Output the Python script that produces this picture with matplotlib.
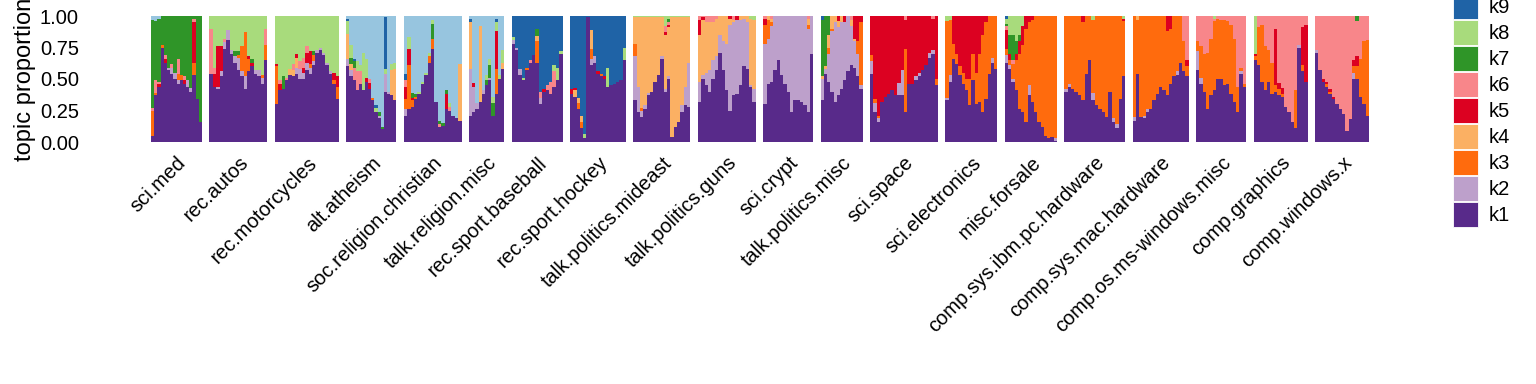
import matplotlib
matplotlib.use("Agg")
from matplotlib import pyplot as plt
from matplotlib.patches import Patch
import numpy as np

plt.rcParams['font.family'] = ['Liberation Sans', 'DejaVu Sans']

topics = ["k1", "k2", "k3", "k4", "k5", "k6", "k7", "k8", "k9", "k10"]
topic_colors = ["#582A8A", "#BDA0CB", "#FF6B0D", "#FBB063", "#DC0121",
                "#F8868A", "#2F9528", "#A8DB7C", "#1F63A6", "#97C5DF"]

# each newsgroup: k1 share per column, the smaller topics,
# and the topic that takes whatever is left at the top

sci_med_k1 = [0.05, 0.37, 0.44, 0.75, 0.63, 0.57, 0.54, 0.50, 0.46, 0.49, 0.46, 0.44, 0.40, 0.53, 0.34, 0.16]
sci_med_other = {
    "k2": [0, 0, 0, 0, 0, 0.02, 0.05, 0.05, 0.03, 0, 0, 0.05, 0.03, 0, 0, 0],
    "k3": [0.20, 0.02, 0, 0.02, 0, 0, 0, 0, 0.05, 0.04, 0, 0, 0, 0.10, 0, 0],
    "k5": [0, 0, 0.02, 0, 0.03, 0, 0, 0, 0, 0, 0.03, 0, 0, 0.32, 0, 0],
    "k6": [0.02, 0.10, 0.02, 0, 0.03, 0, 0.03, 0, 0.12, 0, 0.03, 0, 0, 0.03, 0, 0],
    "k10": [0.03, 0.04, 0.02, 0, 0, 0, 0, 0, 0, 0, 0, 0, 0, 0, 0, 0],
}

rec_autos_k1 = [0.54, 0.44, 0.42, 0.52, 0.74, 0.81, 0.70, 0.63, 0.57, 0.52, 0.42, 0.56, 0.60, 0.54, 0.52, 0.46, 0.65]
rec_autos_other = {
    "k2": [0, 0, 0.02, 0.04, 0.05, 0.08, 0.03, 0.05, 0.10, 0.04, 0.10, 0, 0, 0.03, 0.05, 0.05, 0],
    "k3": [0, 0, 0, 0, 0, 0, 0, 0, 0.02, 0.20, 0.35, 0.10, 0, 0, 0, 0.02, 0.12],
    "k5": [0, 0.10, 0.32, 0.20, 0, 0, 0, 0, 0, 0, 0, 0.02, 0.03, 0, 0, 0, 0],
    "k6": [0.36, 0.05, 0, 0, 0.03, 0, 0, 0, 0, 0, 0, 0, 0, 0, 0, 0, 0.13],
    "k7": [0, 0, 0, 0, 0, 0, 0, 0.04, 0.03, 0, 0, 0, 0.03, 0, 0, 0, 0],
}

rec_moto_k1 = [0.30, 0.41, 0.42, 0.49, 0.53, 0.52, 0.54, 0.50, 0.50, 0.57, 0.54, 0.61, 0.71, 0.73, 0.69, 0.61, 0.54, 0.46, 0.34]
rec_moto_other = {
    "k2": [0, 0, 0, 0, 0, 0, 0.05, 0.08, 0.05, 0.06, 0.05, 0.03, 0.02, 0.02, 0.02, 0.02, 0.02, 0, 0],
    "k3": [0.30, 0, 0, 0, 0, 0, 0, 0, 0, 0, 0.03, 0.05, 0, 0, 0, 0, 0, 0.03, 0.10],
    "k4": [0, 0, 0, 0, 0.05, 0.05, 0.08, 0, 0, 0, 0, 0, 0, 0, 0, 0, 0, 0, 0],
    "k5": [0.02, 0.05, 0, 0, 0, 0, 0.03, 0, 0.04, 0.08, 0.10, 0, 0, 0, 0, 0, 0, 0.06, 0.08],
    "k6": [0, 0.03, 0, 0.02, 0, 0.05, 0, 0.06, 0.08, 0.05, 0, 0, 0, 0, 0, 0, 0, 0, 0],
    "k7": [0, 0, 0.10, 0, 0, 0, 0, 0, 0, 0, 0, 0.03, 0, 0, 0, 0, 0, 0, 0],
}

atheism_k1 = [0.60, 0.52, 0.49, 0.41, 0.46, 0.41, 0.48, 0.42, 0.33, 0.24, 0.19, 0.10, 0.40, 0.38, 0.37, 0.33]
atheism_other = {
    "k2": [0.06, 0.05, 0, 0, 0, 0, 0, 0, 0, 0, 0.02, 0, 0.14, 0.02, 0, 0],
    "k3": [0, 0, 0, 0, 0, 0, 0, 0, 0.02, 0, 0, 0, 0, 0, 0, 0],
    "k4": [0.20, 0.05, 0, 0, 0, 0, 0, 0, 0, 0, 0, 0, 0, 0, 0.20, 0.25],
    "k5": [0, 0, 0, 0, 0, 0, 0.03, 0.05, 0, 0, 0, 0, 0, 0, 0, 0],
    "k6": [0, 0, 0.10, 0.15, 0.10, 0, 0, 0.03, 0, 0, 0, 0, 0, 0, 0, 0],
    "k7": [0, 0.05, 0.05, 0, 0, 0, 0, 0, 0, 0, 0.03, 0.02, 0, 0, 0, 0],
    "k8": [0.10, 0.10, 0, 0.08, 0.05, 0.30, 0.15, 0, 0, 0.03, 0, 0, 0.04, 0, 0.05, 0.05],
    "k9": [0.02, 0, 0.02, 0, 0, 0, 0, 0, 0, 0.02, 0, 0, 0.41, 0, 0, 0],
}

christian_k1 = [0.21, 0.26, 0.28, 0.34, 0.38, 0.46, 0.53, 0.63, 0.74, 0.32, 0.12, 0.13, 0.26, 0.25, 0.21, 0.19, 0.17]
christian_other = {
    "k2": [0.05, 0, 0, 0, 0, 0, 0, 0, 0, 0, 0, 0, 0, 0, 0, 0, 0],
    "k3": [0.08, 0.35, 0.05, 0.02, 0, 0, 0, 0.05, 0.08, 0, 0, 0, 0, 0, 0, 0, 0],
    "k4": [0, 0, 0, 0, 0, 0, 0, 0, 0, 0, 0, 0, 0, 0, 0, 0, 0.45],
    "k5": [0.10, 0.13, 0.02, 0, 0, 0, 0, 0, 0, 0, 0, 0, 0.12, 0, 0, 0, 0],
    "k6": [0.05, 0, 0, 0, 0, 0, 0, 0, 0, 0, 0.02, 0, 0, 0.03, 0, 0, 0],
    "k7": [0, 0, 0.04, 0.02, 0, 0, 0, 0, 0.12, 0, 0.03, 0.02, 0.03, 0, 0, 0, 0],
    "k8": [0, 0.09, 0, 0, 0.02, 0.02, 0.02, 0.03, 0.03, 0, 0, 0, 0, 0.03, 0, 0, 0],
    "k9": [0.05, 0, 0, 0, 0, 0, 0, 0, 0, 0, 0, 0, 0, 0, 0, 0, 0],
}

religion_misc_k1 = [0.21, 0.24, 0.26, 0.32, 0.38, 0.45, 0.49, 0.21, 0.38, 0.50, 0.58]
religion_misc_other = {
    "k2": [0.37, 0.20, 0.05, 0, 0.03, 0, 0.02, 0, 0, 0, 0],
    "k3": [0, 0, 0, 0, 0, 0, 0, 0, 0.20, 0, 0],
    "k4": [0.37, 0, 0, 0.60, 0, 0, 0, 0, 0, 0, 0.05],
    "k5": [0, 0.03, 0, 0, 0, 0, 0, 0, 0.30, 0, 0],
    "k7": [0, 0, 0, 0, 0, 0.04, 0.10, 0.10, 0, 0, 0],
    "k8": [0, 0, 0, 0, 0, 0.04, 0.05, 0.05, 0.07, 0.03, 0.10],
    "k9": [0.03, 0, 0, 0, 0, 0, 0, 0, 0.03, 0, 0],
}

baseball_k1 = [0.78, 0.73, 0.53, 0.49, 0.57, 0.63, 0.69, 0.63, 0.30, 0.40, 0.41, 0.38, 0.44, 0.49, 0.70]
baseball_other = {
    "k2": [0.03, 0.02, 0.05, 0, 0, 0, 0, 0, 0.05, 0, 0, 0, 0, 0, 0],
    "k3": [0, 0, 0, 0, 0.02, 0, 0, 0.17, 0, 0, 0, 0, 0, 0, 0],
    "k4": [0, 0, 0, 0, 0, 0, 0, 0.04, 0, 0, 0, 0, 0, 0, 0],
    "k5": [0, 0, 0, 0, 0, 0, 0, 0, 0, 0.02, 0, 0, 0, 0, 0],
    "k6": [0, 0, 0, 0, 0, 0.02, 0, 0, 0.05, 0, 0.04, 0.10, 0.12, 0, 0],
    "k7": [0, 0, 0, 0, 0, 0, 0, 0.06, 0, 0, 0, 0, 0, 0, 0],
    "k8": [0.02, 0, 0, 0.02, 0, 0, 0, 0, 0, 0, 0, 0, 0.05, 0.10, 0.02],
}

hockey_k1 = [0.38, 0.36, 0.26, 0.11, 0.03, 0.99, 0.61, 0.63, 0.54, 0.52, 0.50, 0.44, 0.45, 0.46, 0.48, 0.49, 0.65]
hockey_other = {
    "k2": [0, 0, 0, 0, 0, 0, 0.05, 0.05, 0, 0, 0, 0, 0, 0, 0, 0, 0],
    "k3": [0, 0, 0.05, 0.05, 0, 0, 0.08, 0, 0, 0.02, 0, 0, 0, 0, 0, 0, 0],
    "k4": [0, 0.05, 0.04, 0.05, 0, 0, 0.15, 0, 0, 0, 0, 0, 0, 0, 0, 0, 0],
    "k5": [0.04, 0.02, 0, 0, 0, 0, 0, 0, 0.02, 0, 0.02, 0, 0, 0, 0, 0, 0],
    "k8": [0, 0, 0, 0, 0.03, 0, 0, 0, 0, 0, 0, 0.15, 0, 0, 0, 0, 0.10],
}

mideast_k1 = [0.33, 0.24, 0.20, 0.26, 0.37, 0.40, 0.48, 0.53, 0.66, 0.40, 0.50, 0.04, 0.12, 0.16, 0.24, 0.29, 0.28]
mideast_other = {
    "k2": [0.35, 0.20, 0.05, 0.03, 0.02, 0, 0, 0, 0.02, 0.02, 0.02, 0, 0, 0, 0.05, 0.15, 0.35],
    "k3": [0.10, 0, 0.02, 0, 0, 0, 0, 0, 0, 0, 0, 0, 0, 0, 0, 0, 0],
    "k5": [0, 0, 0, 0, 0, 0, 0, 0, 0, 0.02, 0.02, 0, 0, 0, 0, 0, 0],
    "k6": [0, 0, 0, 0, 0, 0, 0, 0, 0, 0.05, 0.02, 0, 0, 0, 0, 0, 0],
    "k7": [0, 0, 0, 0, 0, 0, 0, 0, 0, 0, 0.03, 0, 0, 0, 0, 0, 0],
    "k8": [0.01, 0.01, 0.01, 0.01, 0.01, 0.01, 0.01, 0.01, 0.01, 0.08, 0.02, 0.01, 0.01, 0.01, 0.01, 0.01, 0.01],
}

guns_k1 = [0.32, 0.50, 0.45, 0.40, 0.50, 0.57, 0.71, 0.57, 0.41, 0.25, 0.37, 0.38, 0.45, 0.60, 0.58, 0.44, 0.32]
guns_other = {
    "k4": [0.37, 0.44, 0.40, 0.38, 0.30, 0.30, 0.15, 0.20, 0.22, 0.05, 0.02, 0, 0.03, 0.02, 0.05, 0.53, 0.55],
    "k5": [0.12, 0.02, 0, 0, 0, 0, 0, 0, 0, 0.02, 0, 0.03, 0, 0, 0, 0, 0],
    "k6": [0.03, 0.01, 0.05, 0.05, 0.05, 0.02, 0, 0, 0, 0, 0.03, 0, 0, 0, 0, 0, 0],
    "k8": [0, 0, 0, 0, 0, 0, 0, 0, 0, 0, 0, 0, 0, 0, 0, 0.02, 0.03],
}

crypt_k1 = [0.30, 0.46, 0.48, 0.57, 0.65, 0.53, 0.46, 0.40, 0.24, 0.33, 0.33, 0.32, 0.29, 0.24, 0.70]
crypt_other = {
    "k3": [0.15, 0.15, 0.03, 0, 0, 0, 0, 0, 0, 0, 0, 0, 0, 0.03, 0],
    "k4": [0, 0.03, 0.03, 0, 0, 0, 0, 0, 0, 0, 0, 0, 0, 0.05, 0],
    "k5": [0.05, 0, 0, 0, 0, 0, 0, 0, 0, 0, 0, 0, 0, 0, 0],
    "k6": [0.02, 0, 0.02, 0, 0, 0, 0, 0, 0, 0, 0, 0, 0, 0.02, 0],
}

politics_misc_k1 = [0.33, 0.54, 0.48, 0.40, 0.32, 0.37, 0.42, 0.49, 0.56, 0.61, 0.59, 0.52, 0.42]
politics_misc_other = {
    "k3": [0, 0, 0.05, 0.02, 0, 0, 0, 0, 0, 0, 0, 0.10, 0.50],
    "k4": [0.02, 0.02, 0.10, 0.10, 0.05, 0.05, 0.05, 0, 0, 0.05, 0.02, 0, 0],
    "k5": [0, 0, 0, 0, 0, 0.04, 0, 0.05, 0, 0, 0.18, 0.20, 0.05],
    "k6": [0, 0, 0, 0, 0, 0, 0, 0, 0, 0.03, 0, 0, 0],
    "k7": [0.45, 0.40, 0.15, 0, 0, 0, 0, 0, 0, 0, 0, 0, 0],
    "k9": [0.03, 0, 0, 0, 0, 0, 0, 0, 0, 0, 0, 0, 0],
}

space_k1 = [0.54, 0.24, 0.16, 0.32, 0.36, 0.38, 0.41, 0.37, 0.37, 0.37, 0.24, 0.46, 0.46, 0.49, 0.52, 0.57, 0.61, 0.67, 0.70, 0.45]
space_other = {
    "k2": [0.10, 0.07, 0.03, 0, 0, 0, 0, 0, 0.10, 0.20, 0, 0, 0, 0.03, 0.03, 0, 0, 0.04, 0.03, 0],
    "k3": [0.05, 0.03, 0.02, 0, 0, 0, 0, 0, 0, 0, 0.50, 0, 0, 0, 0, 0, 0, 0, 0, 0.05],
    "k6": [0, 0, 0, 0, 0, 0, 0, 0, 0, 0, 0.03, 0, 0, 0, 0, 0, 0, 0, 0.02, 0],
}

electronics_k1 = [0.33, 0.48, 0.66, 0.62, 0.53, 0.46, 0.41, 0.29, 0.49, 0.30, 0.32, 0.24, 0.34, 0.54, 0.63, 0.58]
electronics_other = {
    "k2": [0.02, 0.05, 0, 0, 0, 0, 0, 0, 0, 0, 0, 0, 0, 0, 0.04, 0],
    "k5": [0, 0, 0.22, 0.30, 0.40, 0.45, 0.50, 0.50, 0.30, 0.45, 0.30, 0.15, 0.05, 0, 0, 0],
    "k8": [0.04, 0.03, 0, 0, 0, 0, 0, 0, 0, 0, 0, 0, 0, 0, 0, 0],
}

forsale_k1 = [0.63, 0.58, 0.48, 0.41, 0.26, 0.24, 0.16, 0.37, 0.32, 0.24, 0.16, 0.12, 0.05, 0.03, 0.04, 0.01]
forsale_other = {
    "k2": [0.06, 0.03, 0.02, 0, 0, 0, 0, 0.08, 0, 0, 0, 0, 0, 0, 0, 0.02],
    "k5": [0.15, 0.05, 0, 0.05, 0.10, 0.15, 0.10, 0.05, 0.03, 0, 0, 0, 0, 0, 0, 0],
    "k6": [0.03, 0, 0.03, 0, 0, 0, 0, 0, 0, 0, 0, 0, 0, 0, 0, 0],
    "k7": [0.02, 0.15, 0.20, 0.10, 0.05, 0, 0, 0, 0, 0, 0, 0, 0, 0, 0, 0],
    "k8": [0.04, 0.15, 0.15, 0.20, 0.15, 0.08, 0, 0, 0, 0, 0, 0, 0, 0, 0, 0],
    "k9": [0.02, 0, 0, 0, 0, 0, 0, 0, 0, 0, 0, 0, 0, 0, 0, 0],
}

ibm_k1 = [0.40, 0.44, 0.42, 0.40, 0.37, 0.33, 0.54, 0.65, 0.33, 0.29, 0.26, 0.24, 0.20, 0.40, 0.16, 0.11, 0.34, 0.52]
ibm_other = {
    "k2": [0.02, 0.02, 0, 0, 0, 0, 0, 0, 0.06, 0, 0, 0, 0, 0, 0.03, 0.03, 0, 0],
    "k5": [0, 0, 0, 0, 0, 0.05, 0, 0, 0, 0, 0, 0, 0, 0, 0, 0, 0, 0.02],
    "k8": [0, 0, 0, 0, 0, 0, 0, 0, 0.03, 0, 0, 0, 0, 0, 0, 0, 0, 0.02],
}

mac_k1 = [0.17, 0.54, 0.20, 0.19, 0.24, 0.26, 0.33, 0.38, 0.44, 0.41, 0.37, 0.46, 0.52, 0.53, 0.63, 0.56, 0.52]
mac_other = {
    "k2": [0.03, 0, 0, 0.02, 0.02, 0, 0, 0, 0, 0, 0, 0, 0, 0.03, 0, 0, 0],
    "k4": [0, 0.03, 0, 0, 0, 0, 0, 0, 0, 0, 0, 0, 0, 0, 0, 0, 0],
    "k5": [0, 0, 0, 0, 0, 0, 0, 0, 0, 0, 0.12, 0.10, 0, 0, 0, 0, 0.05],
    "k6": [0, 0, 0, 0, 0, 0, 0, 0, 0, 0, 0, 0, 0, 0, 0, 0.20, 0.35],
}

mswin_k1 = [0.57, 0.46, 0.40, 0.26, 0.37, 0.41, 0.50, 0.50, 0.45, 0.46, 0.38, 0.32, 0.24, 0.54, 0.44]
mswin_other = {
    "k2": [0.15, 0.05, 0, 0, 0, 0, 0, 0, 0, 0, 0, 0, 0, 0.02, 0],
    "k3": [0.08, 0.25, 0.30, 0.45, 0.45, 0.55, 0.48, 0.47, 0.52, 0.50, 0.55, 0.50, 0.20, 0.03, 0.02],
    "k8": [0, 0, 0, 0, 0, 0.02, 0, 0, 0, 0, 0, 0, 0, 0, 0],
}

graphics_k1 = [0.65, 0.61, 0.48, 0.41, 0.48, 0.38, 0.40, 0.37, 0.36, 0.28, 0.24, 0.16, 0.11, 0.75, 0.56, 0.48]
graphics_other = {
    "k2": [0, 0, 0, 0, 0, 0, 0, 0, 0, 0, 0, 0, 0, 0.02, 0, 0],
    "k3": [0.03, 0.30, 0.45, 0.35, 0.25, 0.25, 0.05, 0.05, 0.02, 0, 0, 0, 0.30, 0, 0.05, 0],
    "k5": [0.02, 0, 0, 0, 0, 0, 0.45, 0.05, 0.05, 0, 0, 0, 0, 0, 0.30, 0.45],
    "k8": [0.30, 0, 0, 0, 0, 0, 0, 0, 0, 0, 0, 0, 0, 0, 0, 0],
}

windows_x_k1 = [0.71, 0.57, 0.48, 0.44, 0.38, 0.34, 0.30, 0.26, 0.22, 0.09, 0.18, 0.50, 0.50, 0.36, 0.30, 0.21]
windows_x_other = {
    "k2": [0.02, 0, 0, 0, 0, 0, 0, 0, 0, 0, 0, 0.05, 0, 0, 0, 0],
    "k3": [0, 0, 0, 0.02, 0.02, 0, 0, 0, 0, 0, 0, 0.05, 0.10, 0.30, 0.50, 0.60],
    "k5": [0, 0, 0.02, 0.02, 0.02, 0.02, 0, 0, 0, 0, 0, 0.05, 0.08, 0, 0, 0],
    "k7": [0, 0, 0, 0, 0, 0, 0, 0, 0, 0, 0, 0, 0.04, 0, 0, 0],
}

group_names = ["sci.med", "rec.autos", "rec.motorcycles", "alt.atheism",
               "soc.religion.christian", "talk.religion.misc", "rec.sport.baseball",
               "rec.sport.hockey", "talk.politics.mideast", "talk.politics.guns",
               "sci.crypt", "talk.politics.misc", "sci.space", "sci.electronics",
               "misc.forsale", "comp.sys.ibm.pc.hardware", "comp.sys.mac.hardware",
               "comp.os.ms-windows.misc", "comp.graphics", "comp.windows.x"]
group_k1 = [sci_med_k1, rec_autos_k1, rec_moto_k1, atheism_k1, christian_k1,
            religion_misc_k1, baseball_k1, hockey_k1, mideast_k1, guns_k1,
            crypt_k1, politics_misc_k1, space_k1, electronics_k1, forsale_k1,
            ibm_k1, mac_k1, mswin_k1, graphics_k1, windows_x_k1]
group_other = [sci_med_other, rec_autos_other, rec_moto_other, atheism_other,
               christian_other, religion_misc_other, baseball_other, hockey_other,
               mideast_other, guns_other, crypt_other, politics_misc_other,
               space_other, electronics_other, forsale_other, ibm_other,
               mac_other, mswin_other, graphics_other, windows_x_other]
group_fill = ["k7", "k8", "k8", "k10", "k10", "k10", "k9", "k9", "k4", "k2",
              "k2", "k2", "k5", "k3", "k3", "k3", "k3", "k6", "k6", "k6"]

# facet widths in pixels (roughly the number of documents per group)
panel_px = [51, 58, 64, 50, 58, 35, 51, 56, 57, 58, 50, 42, 68, 52, 52, 61, 56, 50, 54, 54]

W, H = 1536, 384
fig = plt.figure(figsize=(W / 100, H / 100), dpi=100)
gs = fig.add_gridspec(1, len(group_names), width_ratios=panel_px, wspace=0.137,
                      left=151 / W, right=1369 / W, top=1 - 16 / H, bottom=1 - 142 / H)

for i, name in enumerate(group_names):
    ax = fig.add_subplot(gs[0, i])
    n = len(group_k1[i])
    props = {t: np.zeros(n) for t in topics}
    props["k1"] = np.array(group_k1[i], dtype=float)
    for t, v in group_other[i].items():
        props[t] = np.array(v, dtype=float)
    fill = group_fill[i]
    rest = sum(props[t] for t in topics if t != fill)
    props[fill] = np.clip(1 - rest, 0, None)

    x = np.arange(n)
    bottom = np.zeros(n)
    for t, c in zip(topics, topic_colors):
        h = props[t]
        keep = h > 0
        ax.bar(x[keep], h[keep], width=1.0, bottom=bottom[keep], color=c,
               linewidth=0, antialiased=False)
        bottom += h

    ax.set_xlim(-0.5, n - 0.5)
    ax.set_ylim(0, 1)
    for s in ax.spines.values():
        s.set_visible(False)
    ax.set_xticks([(n - 1) / 2])
    ax.set_xticklabels([name], rotation=45, ha="right", va="top",
                       rotation_mode="anchor", fontsize=14.5)
    ax.tick_params(axis="x", length=0, pad=8)
    if i == 0:
        ax.set_yticks([0, 0.25, 0.5, 0.75, 1.0])
        ax.set_yticklabels(["0.00", "0.25", "0.50", "0.75", "1.00"], fontsize=14.5)
        ax.tick_params(axis="y", length=0, pad=52)
        ax.set_ylabel("topic proportion", fontsize=17)
        ax.yaxis.set_label_coords(-2.25, 0.5)
    else:
        ax.set_yticks([])

handles = [Patch(facecolor=c, edgecolor="white", linewidth=0.6, label=t)
           for t, c in zip(topics, topic_colors)][::-1]
fig.legend(handles=handles, loc="lower left", bbox_to_anchor=(1453 / W, 1 - 227 / H),
           frameon=False, borderpad=0, borderaxespad=0, fontsize=14.5,
           handlelength=1.24, handleheight=1.53, labelspacing=0.05,
           handletextpad=0.55)

fig.savefig("out.png", dpi=100)
